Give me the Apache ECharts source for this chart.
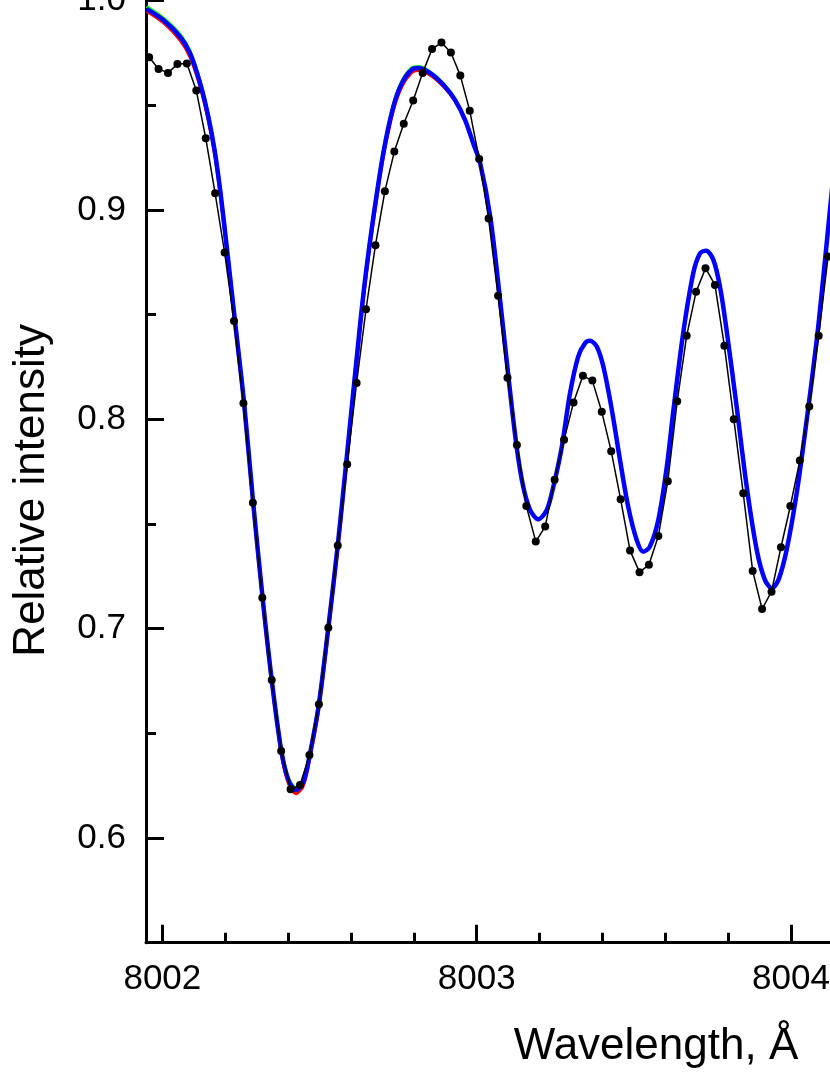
<!DOCTYPE html>
<html>
<head>
<meta charset="utf-8">
<script src="https://cdn.jsdelivr.net/npm/echarts@6/dist/echarts.min.js"></script>
<style>
  html, body { margin: 0; padding: 0; background: #fff; }
  #chart { width: 830px; height: 1075px; }
</style>
</head>
<body>
<div id="chart"></div>
<script>
// observed spectrum (black dots)
var obsWavelength = [
  8001.958, 8001.988, 8002.018, 8002.048, 8002.078, 8002.108, 8002.138, 8002.168, 8002.198, 8002.228,
  8002.258, 8002.288, 8002.318, 8002.348, 8002.378, 8002.408, 8002.438, 8002.468, 8002.498, 8002.528,
  8002.558, 8002.588, 8002.618, 8002.648, 8002.678, 8002.708, 8002.738, 8002.768, 8002.798, 8002.828,
  8002.858, 8002.888, 8002.918, 8002.948, 8002.978, 8003.008, 8003.038, 8003.068, 8003.098, 8003.128,
  8003.158, 8003.188, 8003.218, 8003.248, 8003.278, 8003.308, 8003.338, 8003.368, 8003.398, 8003.428,
  8003.458, 8003.488, 8003.518, 8003.548, 8003.578, 8003.608, 8003.638, 8003.668, 8003.698, 8003.728,
  8003.758, 8003.788, 8003.818, 8003.848, 8003.878, 8003.908, 8003.938, 8003.968, 8003.998, 8004.028,
  8004.058, 8004.088, 8004.118
]
var obsIntensity = [
  0.9730, 0.9674, 0.9655, 0.9697, 0.9700, 0.9571, 0.9343, 0.9080, 0.8797, 0.8470,
  0.8077, 0.7602, 0.7148, 0.6755, 0.6416, 0.6233, 0.6253, 0.6397, 0.6639, 0.7005,
  0.7397, 0.7786, 0.8174, 0.8526, 0.8832, 0.9090, 0.9279, 0.9412, 0.9523, 0.9654,
  0.9769, 0.9800, 0.9752, 0.9642, 0.9474, 0.9244, 0.8959, 0.8590, 0.8199, 0.7878,
  0.7586, 0.7416, 0.7488, 0.7711, 0.7902, 0.8080, 0.8208, 0.8185, 0.8036, 0.7848,
  0.7618, 0.7373, 0.7270, 0.7305, 0.7443, 0.7704, 0.8086, 0.8399, 0.8609, 0.8722,
  0.8642, 0.8351, 0.8001, 0.7647, 0.7276, 0.7094, 0.7177, 0.7389, 0.7586, 0.7803,
  0.8061, 0.8399, 0.8778
]

// synthetic spectra
var modelWavelength = [
  8001.950, 8002.003, 8002.056, 8002.088, 8002.120, 8002.146, 8002.166, 8002.185, 8002.207, 8002.231,
  8002.260, 8002.289, 8002.319, 8002.348, 8002.378, 8002.401, 8002.425, 8002.449, 8002.470, 8002.498,
  8002.528, 8002.558, 8002.589, 8002.629, 8002.648, 8002.671, 8002.703, 8002.735, 8002.762, 8002.793,
  8002.814, 8002.852, 8002.894, 8002.931, 8002.963, 8002.989, 8003.011, 8003.044, 8003.073, 8003.101,
  8003.127, 8003.148, 8003.170, 8003.196, 8003.223, 8003.244, 8003.271, 8003.297, 8003.323, 8003.345,
  8003.361, 8003.382, 8003.403, 8003.430, 8003.456, 8003.482, 8003.509, 8003.530, 8003.551, 8003.578,
  8003.605, 8003.626, 8003.657, 8003.689, 8003.711, 8003.730, 8003.753, 8003.774, 8003.795, 8003.827,
  8003.859, 8003.891, 8003.917, 8003.939, 8003.960, 8003.986, 8004.018, 8004.050, 8004.082, 8004.103,
  8004.124, 8004.140
]
var blueFit = [
  0.9961, 0.9908, 0.9829, 0.9749, 0.9606, 0.9447, 0.9287, 0.9082, 0.8795, 0.8470,
  0.8079, 0.7601, 0.7147, 0.6755, 0.6421, 0.6277, 0.6230, 0.6269, 0.6405, 0.6639,
  0.7005, 0.7397, 0.7854, 0.8451, 0.8704, 0.8962, 0.9272, 0.9494, 0.9606, 0.9670,
  0.9678, 0.9654, 0.9598, 0.9526, 0.9431, 0.9319, 0.9224, 0.8959, 0.8590, 0.8204,
  0.7870, 0.7679, 0.7567, 0.7523, 0.7567, 0.7679, 0.7870, 0.8125, 0.8300, 0.8364,
  0.8375, 0.8348, 0.8252, 0.8045, 0.7806, 0.7583, 0.7424, 0.7368, 0.7392, 0.7520,
  0.7774, 0.8045, 0.8412, 0.8698, 0.8794, 0.8805, 0.8762, 0.8634, 0.8427, 0.8061,
  0.7679, 0.7376, 0.7233, 0.7193, 0.7233, 0.7376, 0.7647, 0.7997, 0.8380, 0.8682,
  0.9001, 0.9240
]
// red and green runs only show along the first line; further right they sit under the blue one
var redFit = [
  0.9950, 0.9895, 0.9812, 0.9730, 0.9588, 0.9428, 0.9268, 0.9062, 0.8775, 0.8451,
  0.8061, 0.7583, 0.7131, 0.6740, 0.6405, 0.6260, 0.6212, 0.6250, 0.6385, 0.6618,
  0.6985, 0.7377, 0.7832, 0.8428, 0.8682, 0.8941, 0.9252, 0.9476, 0.9590, 0.9656,
  0.9666, 0.9644, 0.9590, 0.9520, 0.9426, 0.9315, 0.9220, 0.8957, 0.8589, 0.8204
]
var greenFit = [
  0.9972, 0.9918, 0.9840, 0.9760, 0.9617, 0.9459, 0.9299, 0.9094, 0.8807, 0.8481,
  0.8090, 0.7612, 0.7158, 0.6766, 0.6431, 0.6287, 0.6240, 0.6279, 0.6416, 0.6651,
  0.7017, 0.7409, 0.7866, 0.8463, 0.8716, 0.8974, 0.9284, 0.9505, 0.9616, 0.9679,
  0.9686, 0.9661, 0.9604, 0.9530, 0.9434, 0.9321, 0.9226, 0.8961, 0.8591, 0.8204
]

var xMajorTicks = [8002, 8003, 8004, 8005]
var xMinorTicks = [8002.2, 8002.4, 8002.6, 8002.8, 8003.2, 8003.4, 8003.6, 8003.8, 8004.2, 8004.4, 8004.6, 8004.8]
var yMajorTicks = [0.6, 0.7, 0.8, 0.9, 1.0]
var yMinorTicks = [0.65, 0.75, 0.85, 0.95]

function zip(xs, ys) {
  return ys.map(function (y, i) { return [xs[i], y] })
}

var FONT = 'Liberation Sans, Arial, Helvetica, sans-serif'
var X_MIN = 8001.948
var X_MAX = 8005.193
var Y_MIN = 0.55
var Y_MAX = 1.05

var chart = echarts.init(document.getElementById('chart'), null, { renderer: 'canvas' })

var option = {
  animation: false,
  backgroundColor: '#ffffff',
  // the figure is a crop of a wider plot, so the grid runs past the canvas
  grid: { left: 146, right: -336, top: -104, bottom: 132.3, containLabel: false, outerBoundsMode: 'none' },
  xAxis: [
    {
      type: 'value',
      position: 'bottom',
      min: X_MIN,
      max: X_MAX,
      name: 'Wavelength, Å',
      nameLocation: 'middle',
      nameGap: 82,
      nameTextStyle: { fontSize: 44, color: '#000', fontFamily: FONT },
      axisLine: { lineStyle: { color: '#000', width: 3 } },
      axisTick: { inside: true, length: 18, customValues: xMajorTicks, lineStyle: { color: '#000', width: 3 } },
      axisLabel: {
        fontSize: 35, color: '#000', fontFamily: FONT, margin: 19,
        customValues: xMajorTicks,
        formatter: function (v) { return String(Math.round(v)) }
      },
      splitLine: { show: false }
    },
    {
      type: 'value',
      position: 'bottom',
      min: X_MIN,
      max: X_MAX,
      axisLine: { show: false },
      axisTick: { inside: true, length: 10, customValues: xMinorTicks, lineStyle: { color: '#000', width: 3 } },
      axisLabel: { show: false },
      splitLine: { show: false }
    }
  ],
  yAxis: [
    {
      type: 'value',
      position: 'left',
      min: Y_MIN,
      max: Y_MAX,
      name: 'Relative intensity',
      nameLocation: 'middle',
      nameGap: 92,
      nameTextStyle: { fontSize: 44, color: '#000', fontFamily: FONT, padding: [0, 142, 0, 0] },
      axisLine: { lineStyle: { color: '#000', width: 3 } },
      axisTick: { inside: true, length: 18, customValues: yMajorTicks, lineStyle: { color: '#000', width: 3 } },
      axisLabel: {
        fontSize: 35, color: '#000', fontFamily: FONT, margin: 20,
        customValues: yMajorTicks,
        formatter: function (v) { return v.toFixed(1) }
      },
      splitLine: { show: false }
    },
    {
      type: 'value',
      position: 'left',
      min: Y_MIN,
      max: Y_MAX,
      axisLine: { show: false },
      axisTick: { inside: true, length: 10, customValues: yMinorTicks, lineStyle: { color: '#000', width: 3 } },
      axisLabel: { show: false },
      splitLine: { show: false }
    }
  ],
  series: [
    {
      name: 'fit red',
      type: 'line',
      data: zip(modelWavelength, redFit),
      showSymbol: false,
      smooth: 0.3,
      lineStyle: { color: '#ff0000', width: 3 }
    },
    {
      name: 'fit green',
      type: 'line',
      data: zip(modelWavelength, greenFit),
      showSymbol: false,
      smooth: 0.3,
      lineStyle: { color: '#00ff00', width: 3 }
    },
    {
      name: 'fit blue',
      type: 'line',
      data: zip(modelWavelength, blueFit),
      showSymbol: false,
      smooth: 0.3,
      lineStyle: { color: '#0000ff', width: 4.5 }
    },
    {
      name: 'observed',
      type: 'line',
      data: zip(obsWavelength, obsIntensity),
      symbol: 'circle',
      symbolSize: 8,
      itemStyle: { color: '#000' },
      lineStyle: { color: '#000', width: 1.5 }
    }
  ]
}
chart.setOption(option)
</script>
</body>
</html>
